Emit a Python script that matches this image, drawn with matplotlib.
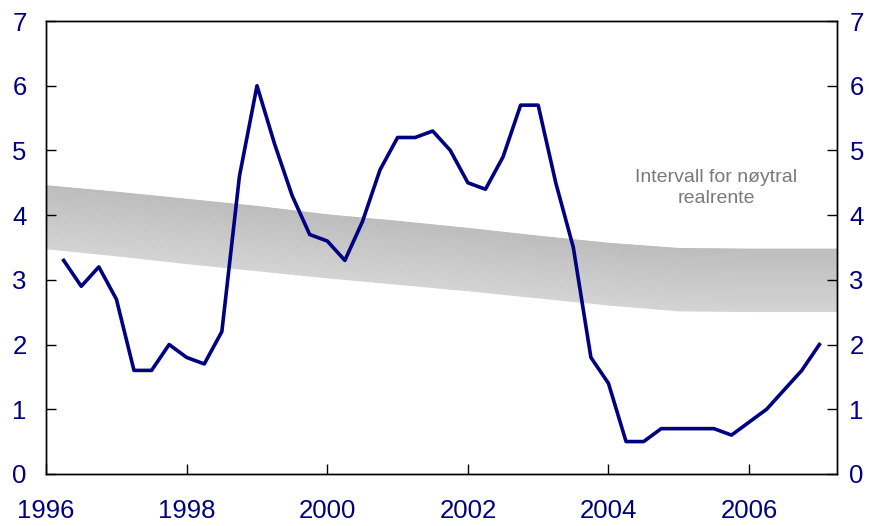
import matplotlib
matplotlib.use('Agg')
import matplotlib.pyplot as plt
import numpy as np

plt.rcParams['font.family'] = ['Liberation Sans', 'DejaVu Sans']

# Realrente, kvartalstall 1996 - 2006
rate_x = np.arange(44) * 0.25 + 1996.25
rate = [3.3, 2.9, 3.2, 2.7, 1.6, 1.6, 2.0, 1.8, 1.7, 2.2, 4.6, 6.0,
        5.1, 4.3, 3.7, 3.6, 3.3, 3.9, 4.7, 5.2, 5.2, 5.3, 5.0, 4.5,
        4.4, 4.9, 5.7, 5.7, 4.5, 3.5, 1.8, 1.4, 0.5, 0.5, 0.7, 0.7,
        0.7, 0.7, 0.6, 0.8, 1.0, 1.3, 1.6, 2.0]

# Intervall for noeytral realrente
band_x = [1996, 1997, 1998, 1999, 2000, 2001, 2002, 2003, 2004, 2005, 2006, 2007.25]
band_low = [3.48, 3.37, 3.25, 3.14, 3.03, 2.93, 2.83, 2.72, 2.61, 2.52, 2.51, 2.51]
band_high = [4.47, 4.37, 4.26, 4.15, 4.02, 3.92, 3.81, 3.69, 3.58, 3.50, 3.49, 3.49]

navy = '#000080'

fig = plt.figure(figsize=(8.7, 5.26), dpi=100)
ax = fig.add_axes([0.053, 0.099, 0.909, 0.861])

# gradient band: darker at the top, lighter at the bottom
lo = np.array(band_low)
hi = np.array(band_high)
n = 60
c_top = np.array([0.74, 0.74, 0.74])
c_bot = np.array([0.83, 0.83, 0.83])
for k in range(n):
    f0 = k / n
    f1 = (k + 1) / n
    col = c_bot + (c_top - c_bot) * (f0 + f1) / 2
    ax.fill_between(band_x, lo + (hi - lo) * f0, lo + (hi - lo) * min(f1 + 0.01, 1),
                    color=col, linewidth=0, antialiased=False, zorder=1)

ax.plot(rate_x, rate, color=navy, linewidth=2.6, zorder=3)

ax.text(2005.53, 4.42, 'Intervall for nøytral\nrealrente', ha='center', va='center',
        fontsize=14, color='#7a7a7a', linespacing=1.3)

ax.set_xlim(1996, 2007.25)
ax.set_ylim(0, 7)
ax.set_xticks([1996, 1998, 2000, 2002, 2004, 2006])
ax.set_yticks(range(8))

ax.tick_params(axis='both', direction='in', length=7, width=1, colors='black',
               labelcolor=navy, labelsize=18.5)
ax.tick_params(axis='x', pad=18)
ax.tick_params(axis='y', pad=14)

ax2 = ax.twinx()
ax2.set_ylim(0, 7)
ax2.set_yticks(range(8))
ax2.tick_params(axis='y', direction='in', length=7, width=1, colors='black',
                labelcolor=navy, labelsize=18.5, pad=9)

for a in (ax, ax2):
    for s in a.spines.values():
        s.set_linewidth(1.0)
        s.set_color('black')

plt.savefig('out.png', dpi=100)
